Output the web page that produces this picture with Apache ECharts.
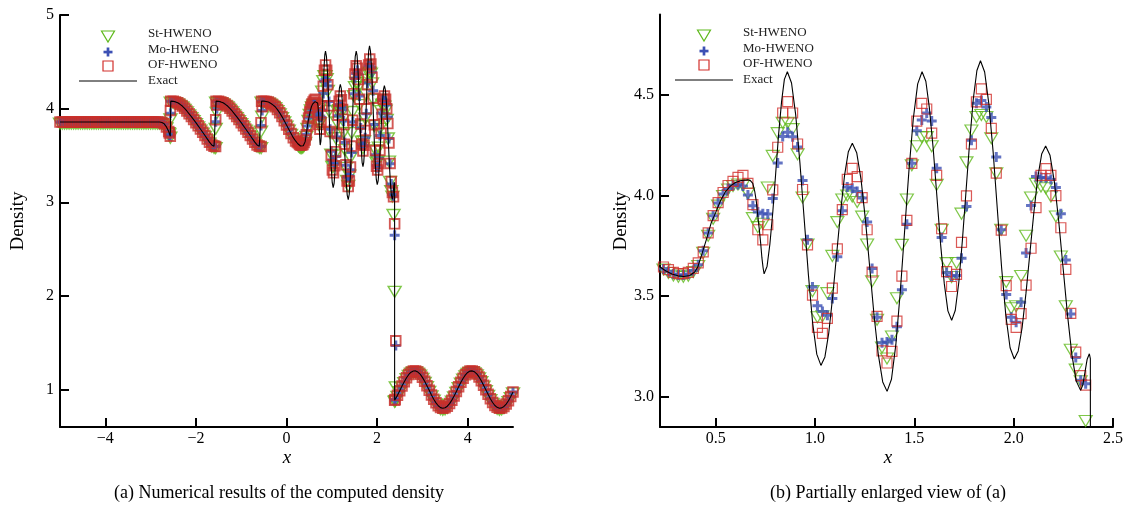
<!DOCTYPE html>
<html><head><meta charset="utf-8">
<script src="https://cdn.jsdelivr.net/npm/echarts@6/dist/echarts.min.js"></script>
<style>html,body{margin:0;padding:0;background:#fff}#c{width:1126px;height:512px}</style>
</head><body><div id="c"></div><script>
// ---------- data ----------
const exactX = [
 -5.00,-4.95,-4.90,-4.85,-4.80,-4.75,-4.70,-4.65,-4.60,-4.55,-4.50,-4.45,-4.40,-4.35,-4.30,
 -4.25,-4.20,-4.15,-4.10,-4.05,-4.00,-3.95,-3.90,-3.85,-3.80,-3.75,-3.70,-3.65,-3.60,-3.55,
 -3.50,-3.45,-3.40,-3.35,-3.30,-3.25,-3.20,-3.15,-3.10,-3.05,-3.00,-2.95,-2.90,-2.85,-2.80,
 -2.75,-2.70,-2.65,-2.60,-2.565,-2.555,
 -2.50,-2.45,-2.40,-2.35,-2.30,-2.25,-2.20,-2.15,-2.10,-2.05,-2.00,-1.95,-1.90,-1.85,-1.80,-1.75,-1.70,-1.65,-1.60,-1.565,-1.555,
 -1.50,-1.45,-1.40,-1.35,-1.30,-1.25,-1.20,-1.15,-1.10,-1.05,-1.00,-0.95,-0.90,-0.85,-0.80,-0.75,-0.70,-0.65,-0.60,-0.56,-0.55,
 -0.50,-0.45,-0.40,-0.35,-0.30,-0.25,-0.20,-0.15,-0.10,-0.05,0.00,0.05,0.10,0.15,0.20,
 0.22,0.25,0.28,0.31,0.34,0.37,0.395,0.41,0.428,0.453,0.478,0.50,0.525,0.55,0.575,0.60,0.63,0.662,
 0.675,0.687,0.697,0.705,0.712,0.72,0.727,0.733,0.739,0.744,
 0.759,0.773,0.788,0.8025,0.817,0.832,0.846,0.861,
 0.882,0.903,0.924,0.9455,0.967,0.988,1.009,1.030,
 1.050,1.0695,1.089,1.109,1.129,1.1485,1.168,1.188,
 1.210,1.232,1.254,1.2755,1.297,1.319,1.341,1.363,
 1.385,1.407,1.429,1.451,1.473,1.495,1.517,1.539,
 1.558,1.576,1.595,1.6135,1.632,1.651,1.669,1.688,
 1.706,1.724,1.742,1.7605,1.779,1.797,1.815,1.833,
 1.854,1.8755,1.897,1.918,1.939,1.9605,1.982,2.003,
 2.023,2.0425,2.062,2.082,2.102,2.1215,2.141,2.161,
 2.183,2.205,2.227,2.249,2.271,2.293,2.315,2.337,
 2.348,2.359,2.370,2.381,2.386,2.387,
 2.40,2.45,2.50,2.55,2.60,2.65,2.70,2.75,2.80,2.85,2.90,2.95,3.00,3.05,3.10,3.15,3.20,3.25,3.30,3.35,
 3.40,3.45,3.50,3.55,3.60,3.65,3.70,3.75,3.80,3.85,3.90,3.95,4.00,4.05,4.10,4.15,4.20,4.25,4.30,4.35,
 4.40,4.45,4.50,4.55,4.60,4.65,4.70,4.75,4.80,4.85,4.90,4.95,5.00
];
const exactY = [
 3.857,3.857,3.857,3.857,3.857,3.857,3.857,3.857,3.857,3.857,3.857,3.857,3.857,3.857,3.857,
 3.857,3.857,3.857,3.857,3.857,3.857,3.857,3.857,3.857,3.857,3.857,3.857,3.857,3.857,3.857,
 3.857,3.857,3.857,3.857,3.857,3.857,3.857,3.857,3.857,3.857,3.857,3.857,3.857,3.857,3.857,
 3.852,3.838,3.805,3.755,3.705,4.080,
 4.078,4.072,4.062,4.046,4.028,4.003,3.975,3.945,3.915,3.883,3.850,3.816,3.782,3.748,3.713,3.677,3.642,3.612,3.598,3.595,4.080,
 4.078,4.072,4.062,4.046,4.028,4.003,3.975,3.945,3.915,3.883,3.850,3.816,3.782,3.748,3.713,3.677,3.642,3.612,3.598,3.595,4.080,
 4.080,4.077,4.070,4.058,4.040,4.020,3.990,3.955,3.915,3.870,3.825,3.780,3.735,3.690,3.655,
 3.645,3.625,3.610,3.601,3.598,3.603,3.620,3.645,3.700,3.780,3.865,3.915,3.975,4.020,4.048,4.065,4.075,4.078,
 4.074,4.060,4.020,3.970,3.900,3.830,3.760,3.690,3.640,3.611,
 3.649,3.758,3.921,4.113,4.305,4.468,4.577,4.615,
 4.559,4.401,4.165,3.886,3.606,3.369,3.212,3.156,
 3.198,3.318,3.497,3.708,3.919,4.098,4.218,4.260,
 4.213,4.079,3.879,3.644,3.408,3.208,3.074,3.027,
 3.087,3.259,3.517,3.821,4.125,4.383,4.555,4.615,
 4.568,4.434,4.234,3.998,3.761,3.561,3.427,3.380,
 3.429,3.569,3.778,4.025,4.272,4.481,4.621,4.670,
 4.614,4.453,4.213,3.929,3.646,3.405,3.244,3.188,
 3.228,3.343,3.515,3.717,3.919,4.091,4.206,4.246,
 4.200,4.068,3.871,3.639,3.407,3.210,3.078,3.032,
 3.059,3.123,3.187,3.214,3.190,0.885,
 0.893,0.938,0.987,1.037,1.084,1.126,1.161,1.185,1.198,1.199,1.187,1.164,1.130,1.088,1.041,0.992,0.942,0.897,0.858,0.827,
 0.807,0.800,0.805,0.822,0.850,0.887,0.931,0.980,1.030,1.078,1.121,1.157,1.183,1.197,1.199,1.189,1.167,1.135,1.094,1.047,
 0.998,0.949,0.902,0.862,0.830,0.810,0.800,0.804,0.819,0.845,0.881,0.925,0.974
];
// numerical solutions on the cell grid x = 0.2375 + 0.025*k (k = 0..85)
const cellX0 = 0.2375, cellDx = 0.025;
const stY = [
 3.632,3.615,3.603,3.597,3.596,3.602,3.620,3.650,3.715,3.800,
 3.885,3.950,3.998,4.030,4.047,4.055,4.050,4.010,3.888,3.843,
 3.860,4.040,4.197,4.310,4.362,4.362,4.330,4.205,3.990,3.757,
 3.525,3.395,3.400,3.515,3.700,3.868,3.980,4.000,3.995,3.968,
 3.895,3.757,3.574,3.383,3.245,3.190,3.300,3.490,3.755,3.980,
 4.150,4.245,4.290,4.290,4.245,4.053,3.830,3.664,3.595,3.665,
 3.910,4.165,4.323,4.390,4.400,4.390,4.285,4.110,3.830,3.570,
 3.440,3.450,3.600,3.800,3.990,4.058,4.045,4.036,3.995,3.896,
 3.697,3.450,3.234,3.135,3.077,2.880];
const moY = [
 3.635,3.622,3.610,3.605,3.605,3.610,3.628,3.656,3.726,3.814,
 3.900,3.963,4.008,4.035,4.050,4.055,4.048,4.003,3.949,3.918,
 3.910,3.908,3.985,4.162,4.293,4.315,4.292,4.241,4.075,3.780,
 3.545,3.452,3.424,3.405,3.488,3.696,3.925,4.043,4.036,4.020,
 3.988,3.868,3.638,3.395,3.268,3.272,3.284,3.348,3.532,3.857,
 4.160,4.322,4.375,4.410,4.370,4.135,3.792,3.617,3.600,3.603,
 3.688,3.945,4.275,4.458,4.472,4.440,4.388,4.192,3.830,3.508,
 3.395,3.370,3.470,3.714,3.950,4.094,4.090,4.088,4.080,4.040,
 3.910,3.680,3.412,3.195,3.082,3.065];
const ofY = [
 3.645,3.632,3.618,3.612,3.612,3.618,3.638,3.665,3.720,3.815,
 3.900,3.965,4.015,4.050,4.070,4.090,4.100,4.060,3.955,3.830,
 3.780,3.855,4.028,4.240,4.410,4.467,4.410,4.256,4.030,3.755,
 3.505,3.345,3.315,3.390,3.540,3.735,3.930,4.080,4.135,4.094,
 3.990,3.830,3.620,3.400,3.228,3.168,3.226,3.376,3.600,3.877,
 4.160,4.370,4.458,4.430,4.310,4.100,3.835,3.622,3.548,3.608,
 3.767,3.998,4.256,4.465,4.530,4.478,4.334,4.111,3.828,3.552,
 3.385,3.345,3.413,3.555,3.738,3.940,4.100,4.134,4.100,4.000,
 3.840,3.633,3.415,3.222,3.105,3.058];
// smeared points at the weak jumps and the main shock (left panel)
const stJump = [[-2.5875,3.74],[-2.5625,3.90],[-1.5625,3.80],[-1.5375,3.97],[-0.5625,3.77],[-0.5375,3.93]];
const moJump = [[-2.5875,3.72],[-2.5625,3.95],[-1.5625,3.86],[-1.5375,4.00],[-0.5625,3.82],[-0.5375,3.98]];
const ofJump = [[-2.5875,3.74],[-2.5625,3.98],[-1.5625,3.88],[-1.5375,4.04],[-0.5625,3.85],[-0.5375,4.02]];
const stShock = [[2.3875,2.06],[2.4125,1.04]];
const moShock = [[2.3875,2.647],[2.4125,1.47]];
const ofShock = [[2.3875,2.77],[2.4125,1.52]];
// ticks / texts
const xTicksA = [-4,-2,0,2,4], yTicksA = [1,2,3,4,5];
const xTicksB = [0.5,1.0,1.5,2.0,2.5], yTicksB = [3.0,3.5,4.0,4.5];
const names = ['St-HWENO','Mo-HWENO','OF-HWENO','Exact'];
const captions = ['(a) Numerical results of the computed density','(b) Partially enlarged view of (a)'];

// ---------- build ----------
const FONT = "'Liberation Serif', 'DejaVu Serif', serif";
const GREEN = '#5fb91c', BLUE = '#3c50b4', RED = '#d2302c', RED_BAND = '#c8302a';
const exactPts = exactX.map((x,i)=>[x, exactY[i]]);
const bandPts = exactPts.filter(p => p[0] < 0.215 || p[0] > 2.3865);
const cells = arr => arr.map((y,k)=>[+(cellX0 + k*cellDx).toFixed(4), y]);
const CROSS = 'path://M3.5,0H6.5V3.5H10V6.5H6.5V10H3.5V6.5H0V3.5H3.5Z';

function markerSeries(name, data, idx, kind, left) {
  const s = {name, type:'scatter', xAxisIndex:idx, yAxisIndex:idx, data, silent:true, animation:false};
  if (kind==='st') Object.assign(s,{symbol:'triangle', symbolRotate:180, symbolSize:[13,11],
      symbolOffset: left ? [0,1.5] : [0,0],
      itemStyle:{color:'rgba(0,0,0,0)', borderColor:GREEN, borderWidth: left ? 1.4 : 1.2}});
  if (kind==='mo') Object.assign(s,{symbol:CROSS, symbolSize:10, itemStyle:{color:BLUE}});
  if (kind==='of') Object.assign(s,{symbol:'rect', symbolSize: left ? 9.6 : 10,
      itemStyle:{color:'rgba(0,0,0,0)', borderColor: left ? RED_BAND : RED, borderWidth: left ? 1.9 : 1.2}});
  return s;
}
function lineSeries(idx){
  return {name:'Exact', type:'line', xAxisIndex:idx, yAxisIndex:idx, data:exactPts, showSymbol:false,
    silent:true, animation:false, z:5, lineStyle:{color:'#000', width:1.1}};
}
function axis(idx, min, max, ticks, fmt, isX){
  return {type:'value', gridIndex:idx, min, max, scale:true,
    axisLine:{show:true, onZero:false, lineStyle:{color:'#000', width:2}},
    axisTick:{show:true, inside:true, length:9, customValues:ticks, lineStyle:{color:'#000', width:2}},
    axisLabel:{show:true, customValues:ticks, formatter:fmt, color:'#000', fontFamily:FONT, fontSize:16, margin: isX ? 4 : 6},
    splitLine:{show:false}};
}
const fmtA = v => (v<0 ? '\u2212'+(-v) : String(v));
const fmtB = v => Number(v).toFixed(1);

function legend(ox, oy, tx){
  const g = [];
  g.push({type:'polygon', shape:{points:[[ox-6.5,oy+31],[ox+6.5,oy+31],[ox,oy+42]]}, style:{fill:'none', stroke:GREEN, lineWidth:1.2}});
  g.push({type:'rect', shape:{x:ox-4.5, y:oy+50.7, width:9, height:2.7}, style:{fill:BLUE}});
  g.push({type:'rect', shape:{x:ox-1.35, y:oy+47.5, width:2.7, height:9}, style:{fill:BLUE}});
  g.push({type:'rect', shape:{x:ox-5, y:oy+61, width:10, height:10}, style:{fill:'none', stroke:RED, lineWidth:1.2}});
  g.push({type:'line', shape:{x1:ox-29, y1:oy+81, x2:ox+29, y2:oy+81}, style:{stroke:'#000', lineWidth:1}});
  const ys = [33.5, 49.5, 65, 81];
  names.forEach((n,i)=> g.push({type:'text', x:tx, y:oy+ys[i], style:{text:n, fill:'#222', font:"13px "+FONT, verticalAlign:'middle', align:'left'}}));
  return g;
}
const graphic = [
  ...legend(108, 0, 148),
  ...legend(704, -1, 743),
  {type:'text', x:18, y:221, rotation:Math.PI/2, style:{text:'Density', fill:'#000', font:"19px "+FONT, align:'center', verticalAlign:'middle'}},
  {type:'text', x:621, y:221, rotation:Math.PI/2, style:{text:'Density', fill:'#000', font:"19px "+FONT, align:'center', verticalAlign:'middle'}},
  {type:'text', x:287, y:458, style:{text:'x', fill:'#000', font:"italic 19px "+FONT, align:'center', verticalAlign:'middle'}},
  {type:'text', x:888, y:458, style:{text:'x', fill:'#000', font:"italic 19px "+FONT, align:'center', verticalAlign:'middle'}},
  {type:'text', x:279, y:493, style:{text:captions[0], fill:'#000', font:"18px "+FONT, align:'center', verticalAlign:'middle'}},
  {type:'text', x:888, y:493, style:{text:captions[1], fill:'#000', font:"18px "+FONT, align:'center', verticalAlign:'middle'}}
];

const chart = echarts.init(document.getElementById('c'), null, {renderer:'canvas'});
chart.setOption({
  animation:false,
  backgroundColor:'#fff',
  grid:[{left:60, top:15, width:453, height:412}, {left:660, top:14.4, width:456, height:412.6}],
  xAxis:[axis(0,-5,5,xTicksA,fmtA,true), axis(1,0.22,2.5,xTicksB,fmtB,true)],
  yAxis:[axis(0,0.6,5,yTicksA,fmtA,false), axis(1,2.85,4.9,yTicksB,fmtB,false)],
  graphic,
  series:[
    markerSeries(names[0], bandPts.concat(stJump, cells(stY), stShock), 0, 'st', true),
    markerSeries(names[1], bandPts.concat(moJump, cells(moY), moShock), 0, 'mo', true),
    markerSeries(names[2], bandPts.concat(ofJump, cells(ofY), ofShock), 0, 'of', true),
    lineSeries(0),
    markerSeries(names[0], cells(stY), 1, 'st', false),
    markerSeries(names[1], cells(moY), 1, 'mo', false),
    markerSeries(names[2], cells(ofY), 1, 'of', false),
    lineSeries(1)
  ]
});
</script></body></html>
